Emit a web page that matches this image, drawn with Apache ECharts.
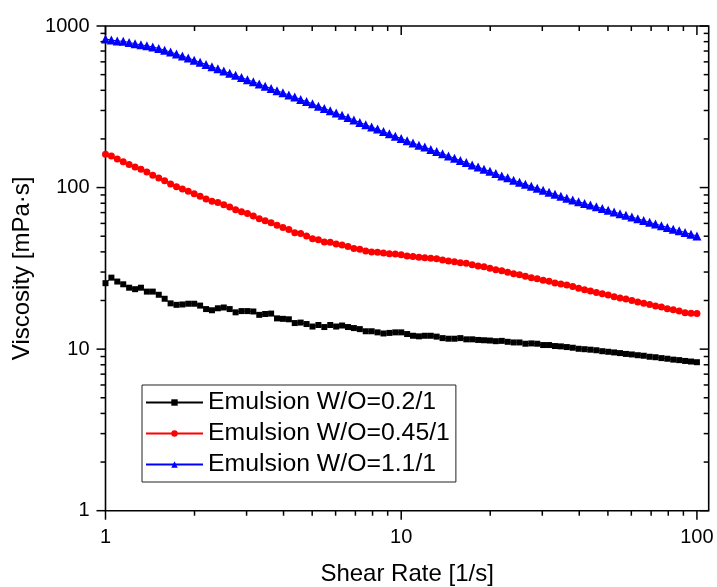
<!DOCTYPE html>
<html>
<head>
<meta charset="utf-8">
<script src="https://cdn.jsdelivr.net/npm/echarts/dist/echarts.min.js"></script>
<style>
html,body{margin:0;padding:0;background:#fff;}
#chart{width:717px;height:587px;}
</style>
</head>
<body>
<div id="chart"></div>
<script>
// ---- data ----
const shearRate = [1,1.047,1.096,1.148,1.202,1.259,1.318,1.380,1.445,1.514,1.585,1.660,1.738,1.820,1.905,1.995,2.089,2.188,2.291,2.399,2.512,2.630,2.754,2.884,3.020,3.162,3.311,3.467,3.631,3.802,3.981,4.169,4.365,4.571,4.786,5.012,5.248,5.495,5.754,6.026,6.310,6.607,6.918,7.244,7.586,7.943,8.318,8.710,9.120,9.550,10,10.47,10.96,11.48,12.02,12.59,13.18,13.80,14.45,15.14,15.85,16.60,17.38,18.20,19.05,19.95,20.89,21.88,22.91,23.99,25.12,26.30,27.54,28.84,30.20,31.62,33.11,34.67,36.31,38.02,39.81,41.69,43.65,45.71,47.86,50.12,52.48,54.95,57.54,60.26,63.10,66.07,69.18,72.44,75.86,79.43,83.18,87.10,91.20,95.50,100];

const viscosity02 = [25.6,27.7,26.2,25.2,24.0,23.5,24.0,22.7,22.7,21.7,
  20.5,19.2,18.8,18.9,19.1,19.1,18.6,17.7,17.4,17.9,
  18.1,17.7,16.9,17.2,17.2,17.1,16.3,16.5,16.6,15.5,
  15.4,15.3,14.5,14.6,14.3,13.8,14.1,13.7,14.1,13.8,
  14.0,13.7,13.5,13.3,12.9,12.9,12.7,12.5,12.6,12.7,
  12.7,12.4,12.1,12.0,12.1,12.1,11.95,11.7,11.6,11.6,
  11.7,11.5,11.5,11.4,11.35,11.3,11.2,11.25,11.1,11.0,
  11.0,10.8,10.85,10.8,10.6,10.6,10.45,10.4,10.3,10.2,
  10.05,9.99,9.92,9.84,9.71,9.63,9.54,9.45,9.34,9.27,
  9.17,9.10,8.97,8.91,8.80,8.72,8.61,8.55,8.45,8.38,8.30];

const viscosity045 = [160.9,156.8,150.5,144.7,138.8,134.1,129.8,124.9,119.3,114.7,
  110.2,105.3,101.3,98.0,95.0,91.7,88.4,85.0,82.3,80.9,
  78.4,75.9,72.9,70.9,69.0,66.7,64.1,62.4,60.6,58.4,
  56.6,55.0,52.6,51.9,50.2,48.3,47.6,46.1,45.9,44.8,
  44.1,43.1,41.9,41.5,40.5,39.9,39.8,39.4,39.0,38.8,
  38.4,37.7,37.4,37.0,36.8,36.5,36.2,35.6,35.1,34.8,
  34.3,34.0,33.3,32.7,32.3,31.7,31.0,30.6,29.9,29.3,
  28.9,28.3,27.7,27.3,26.7,26.3,25.7,25.3,24.9,24.4,
  23.8,23.3,22.9,22.4,22.0,21.6,21.1,20.7,20.4,20.0,
  19.6,19.2,18.9,18.5,18.2,17.8,17.5,17.2,16.8,16.7,16.6];

const viscosity11 = [831,819,808,804,791,776,765,754,742,726,
  709,690,671,652,634,614,596,578,560,543,
  526,510,495,480,465,452,438,424,411,398,
  386,374,363,351,341,330,319,309,299,289,
  280,271,262,253,245,237,230,222,215,208,
  201,195,189,183,178,172,167,162,157,152,
  147,143,138,134,130,126,122,118,115,111,
  108,105,102,99.2,96.4,93.6,91.0,88.4,85.9,83.8,
  81.8,79.8,77.9,76.0,74.2,72.4,70.6,68.9,67.3,65.7,
  64.1,62.5,61.0,59.5,58.1,56.7,55.3,54.0,52.7,51.4,50.2];

const seriesNames = ['Emulsion W/O=0.2/1','Emulsion W/O=0.45/1','Emulsion W/O=1.1/1'];
const xMajorTicks = [1,10,100];
const xMinorTicks = [2,3,4,5,6,7,8,9,20,30,40,50,60,70,80,90];
const yMajorTicks = [1,10,100,1000];
const yMinorTicks = [2,3,4,5,6,7,8,9,20,30,40,50,60,70,80,90,200,300,400,500,600,700,800,900];
const xRange = [1,109.6];
const yRange = [1,1000];

// ---- chart ----
const FONT = '"Liberation Sans", Arial, sans-serif';
const chart = echarts.init(document.getElementById('chart'), null, {renderer:'canvas'});
const pairs = (ys) => shearRate.map((x,i)=>[x, ys[i]]);
const isDecade = v => Math.abs(Math.log10(v) - Math.round(Math.log10(v))) < 1e-6;

function mk(name, ys, color, symbol, size){
  return {
    name, type:'line', data:pairs(ys), symbol, symbolSize:size, showAllSymbol:true,
    lineStyle:{color, width:1}, itemStyle:{color}, animation:false
  };
}

chart.setOption({
  animation:false,
  backgroundColor:'#fff',
  grid:{left:105.5, top:26, width:603.2, height:484.7, outerBoundsMode:'none', containLabel:false,
        show:true, borderColor:'#000', borderWidth:1.6, backgroundColor:'transparent'},
  xAxis:{
    type:'log', logBase:10, min:xRange[0], max:xRange[1],
    name:'Shear Rate [1/s]', nameLocation:'middle', nameGap:52,
    nameTextStyle:{fontSize:24, color:'#000', fontFamily:FONT},
    axisLine:{show:false}, axisTick:{show:false}, splitLine:{show:false}, minorTick:{show:false},
    axisLabel:{fontSize:20, color:'#000', fontFamily:FONT, margin:17,
      formatter:v=> isDecade(v) ? String(Math.round(v)) : ''}
  },
  yAxis:{
    type:'log', logBase:10, min:yRange[0], max:yRange[1],
    name:'Viscosity [mPa·s]', nameLocation:'middle', nameGap:71,
    nameTextStyle:{fontSize:24, color:'#000', fontFamily:FONT},
    axisLine:{show:false}, axisTick:{show:false}, splitLine:{show:false},
    axisLabel:{fontSize:20, color:'#000', fontFamily:FONT, margin:16,
      formatter:v=> isDecade(v) ? String(Math.round(v)) : ''}
  },
  legend:{
    data:seriesNames, orient:'vertical', left:142, top:385,
    itemWidth:57, itemHeight:8, itemGap:6,
    padding:[5,6,5,3], borderColor:'#222', borderWidth:1, backgroundColor:'#fff',
    textStyle:{fontSize:24.8, lineHeight:25, color:'#000', fontFamily:FONT}
  },
  series:[
    mk(seriesNames[0], viscosity02, '#000000', 'rect', 6),
    mk(seriesNames[1], viscosity045, '#ff0000', 'circle', 7),
    mk(seriesNames[2], viscosity11, '#0000ff', 'triangle', 9)
  ]
});

// ---- ticks drawn at library-computed positions ----
const P = (x,y) => chart.convertToPixel({gridIndex:0}, [x,y]);
const g = [];
const tickStyle = {stroke:'#000', lineWidth:1.5};
function line(x1,y1,x2,y2){ g.push({type:'line', silent:true, z:100, shape:{x1,y1,x2,y2}, style:tickStyle}); }
function xTicks(list, len){
  list.forEach(v=>{
    const b = P(v, yRange[0]), t = P(v, yRange[1]);
    line(b[0], b[1], b[0], b[1]+len);     // bottom: outward
    line(t[0], t[1], t[0], t[1]+len);     // top: inward
  });
}
function yTicks(list, len){
  list.forEach(v=>{
    const l = P(xRange[0], v), r = P(xRange[1], v);
    line(l[0], l[1], l[0]-len, l[1]);     // left: outward
    line(r[0], r[1], r[0]-len, r[1]);     // right: inward
  });
}
xTicks(xMajorTicks, 9); xTicks(xMinorTicks, 5);
yTicks(yMajorTicks, 9); yTicks(yMinorTicks, 5);
chart.setOption({graphic:g});
</script>
</body>
</html>
